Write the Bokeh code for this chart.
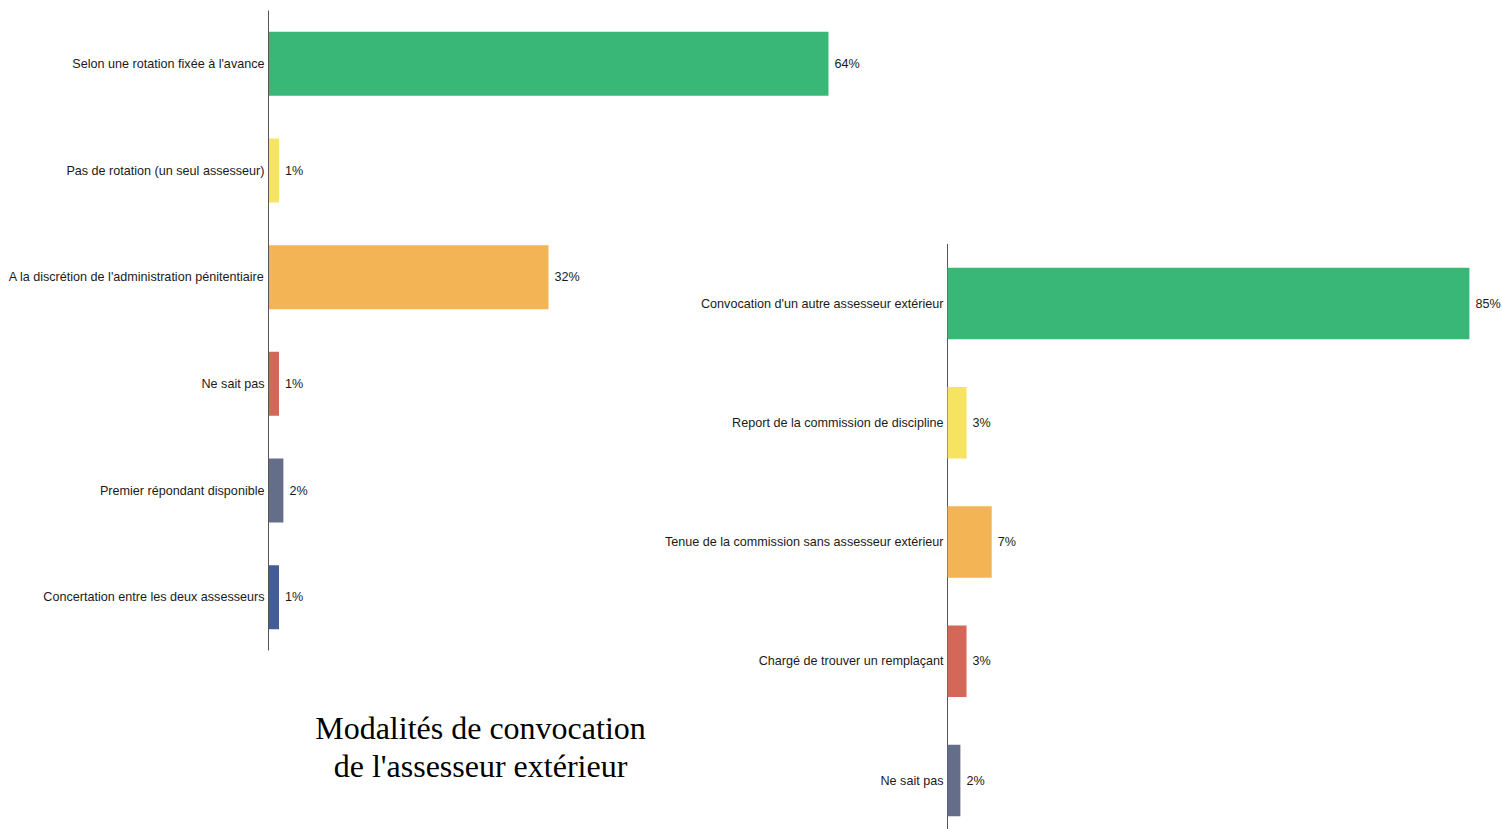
from bokeh.plotting import figure
from bokeh.models import Range1d, FixedTicker, Label, ColumnDataSource
from bokeh.core.properties import value
from bokeh.embed import file_html
from bokeh.resources import INLINE

# ---- data ----
left_categories = [
    "Selon une rotation fixée à l'avance",
    "Pas de rotation (un seul assesseur)",
    "A la discrétion de l'administration pénitentiaire",
    "Ne sait pas",
    "Premier répondant disponible",
    "Concertation entre les deux assesseurs",
]
left_values = [64.0, 1.2, 32.0, 1.2, 1.7, 1.2]
left_colors = ["#39b777", "#f6e35f", "#f2b454", "#d46758", "#646e89", "#435d97"]

right_categories = [
    "Convocation d'un autre assesseur extérieur",
    "Report de la commission de discipline",
    "Tenue de la commission sans assesseur extérieur",
    "Chargé de trouver un remplaçant",
    "Ne sait pas",
]
right_values = [85.0, 3.1, 7.2, 3.1, 2.1]
right_colors = ["#39b777", "#f6e35f", "#f2b454", "#d46758", "#646e89"]

title_lines = ["Modalités de convocation", "de l'assesseur extérieur"]

W, H = 1502, 829
FONT = value("Liberation Sans")
FS = "12.6px"
AXIS_COLOR = "#555555"
TXT = "#1a1a1a"

# picture geometry (frame: x 268..W, y 10..H)
FX0, FX1, FY0, FY1 = 268, W, 10, H
L_PX = 8.75            # px per % (left)
L_BAND = 640 / 6       # px per category (left)
R_X0 = 947             # x of right zero
R_PX = 6.14            # px per % (right)
R_BAND = 119.25        # px per category (right)
R_C0 = 303             # y of first right category

p = figure(width=W, height=H, output_backend="svg", toolbar_location=None,
           x_range=Range1d(0, (FX1 - FX0) / L_PX),
           y_range=Range1d((FY1 - FY0) / L_BAND - 0.5, -0.5),
           min_border_left=FX0, min_border_top=FY0,
           min_border_right=0, min_border_bottom=0)
p.extra_x_ranges = {"right": Range1d(-(R_X0 - FX0) / R_PX, (FX1 - R_X0) / R_PX)}
p.extra_y_ranges = {"right": Range1d((FY1 - R_C0) / R_BAND, -(R_C0 - FY0) / R_BAND)}

p.xaxis.visible = False
p.xgrid.visible = False
p.ygrid.visible = False
p.outline_line_color = None

# ---- left panel ----
l_idx = list(range(len(left_categories)))
lsrc = ColumnDataSource(dict(y=l_idx, v=left_values, c=left_colors,
                             lab=[f"{round(v)}%" for v in left_values]))
p.hbar(y="y", right="v", left=0, height=0.6, color="c", line_color=None, source=lsrc)
p.text(x="v", y="y", text="lab", x_offset=6, text_align="left",
       text_baseline="middle", text_font=FONT, text_font_size=FS,
       text_color=TXT, source=lsrc)

ax = p.yaxis[0]
ax.ticker = FixedTicker(ticks=l_idx)
ax.major_label_overrides = {i: c for i, c in zip(l_idx, left_categories)}
ax.bounds = (-0.5, len(left_categories) - 0.5)
ax.axis_line_color = AXIS_COLOR
ax.axis_line_width = 1
ax.major_tick_line_color = None
ax.minor_tick_line_color = None
ax.major_tick_out = 0
ax.major_tick_in = 0
ax.major_label_standoff = 4
ax.major_label_text_font = "Liberation Sans"
ax.major_label_text_font_size = FS
ax.major_label_text_color = TXT

# ---- right panel ----
r_idx = list(range(len(right_categories)))
rsrc = ColumnDataSource(dict(y=r_idx, v=right_values, c=right_colors,
                             zero=[0] * len(r_idx), cat=right_categories,
                             lab=[f"{round(v)}%" for v in right_values]))
p.segment(x0=[0], y0=[-0.5], x1=[0], y1=[len(r_idx)], line_color=AXIS_COLOR,
          line_width=1, x_range_name="right", y_range_name="right")
p.hbar(y="y", right="v", left=0, height=0.6, color="c", line_color=None,
       source=rsrc, x_range_name="right", y_range_name="right")
p.text(x="v", y="y", text="lab", x_offset=6, text_align="left",
       text_baseline="middle", text_font=FONT, text_font_size=FS,
       text_color=TXT, source=rsrc, x_range_name="right", y_range_name="right")
p.text(x="zero", y="y", text="cat", x_offset=-4, text_align="right",
       text_baseline="middle", text_font=FONT, text_font_size=FS,
       text_color=TXT, source=rsrc, x_range_name="right", y_range_name="right")

# ---- title ----
for i, line in enumerate(title_lines):
    p.add_layout(Label(x=(480 - FX0) / L_PX,
                       y=(727 + 38 * i - FY0) / L_BAND - 0.5,
                       text=line, text_align="center", text_baseline="middle",
                       text_font="Liberation Serif", text_font_size="32px",
                       text_color="#000000"))

open("out.html", "w").write(file_html(p, INLINE))
